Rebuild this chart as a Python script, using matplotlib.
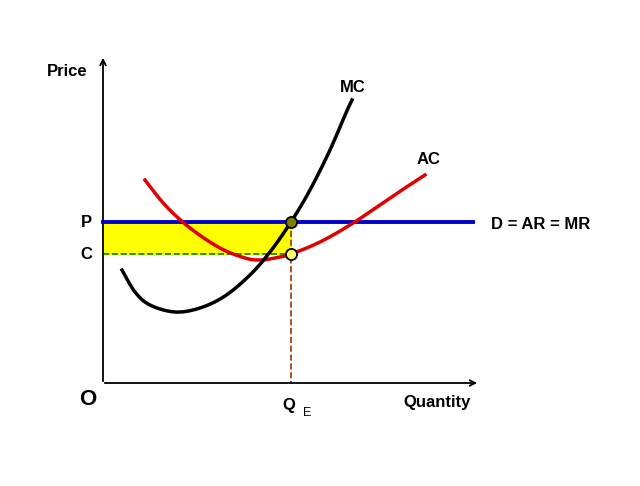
import matplotlib
matplotlib.use("Agg")
import matplotlib.pyplot as plt
import numpy as np

plt.rcParams['font.family'] = ['Liberation Sans', 'DejaVu Sans']

# Pixel-space data (x right, y down)
mc_x = [122,135,150,175,200,225,250,270,291,310,330,345,352]
mc_y = [270,292,305,312,308,296,275,252,222,190,150,115,100]
ac_x = [145,165,190,220,245,260,275,291,320,350,380,405,425]
ac_y = [180,205,228,248,258,260,258,254,242,225,205,188,175]
origin = (103, 383)
price_P = 222
cost_C = 254
q_E = 291
demand_end = 473

def smooth(x, y, n=200):
    x = np.array(x, float); y = np.array(y, float)
    t = np.r_[0, np.cumsum(np.hypot(np.diff(x), np.diff(y)))]
    tt = np.linspace(0, t[-1], n)
    from numpy import interp
    # Catmull-Rom style smoothing
    pts = np.c_[x, y]
    P = np.vstack([pts[0], pts, pts[-1]])
    out = []
    for i in range(1, len(P) - 2):
        p0, p1, p2, p3 = P[i-1], P[i], P[i+1], P[i+2]
        for s in np.linspace(0, 1, 15, endpoint=False):
            out.append(0.5*((2*p1) + (-p0+p2)*s + (2*p0-5*p1+4*p2-p3)*s**2 + (-p0+3*p1-3*p2+p3)*s**3))
    out.append(pts[-1])
    out = np.array(out)
    return out[:, 0], out[:, 1]

fig = plt.figure(figsize=(6.4, 4.86), dpi=100)
ax = fig.add_axes([0, 0, 1, 1])
ax.set_xlim(0, 640); ax.set_ylim(486, 0); ax.axis('off')

ox, oy = origin
ax.fill_between([ox, q_E], price_P, cost_C, color='#ffff00', zorder=1)
ax.plot([ox, q_E], [cost_C, cost_C], ls='--', color='#008000', lw=1.2, zorder=2)
ax.plot([q_E, q_E], [price_P, oy], ls='--', color='#993300', lw=1.2, zorder=2)

ax.annotate('', xy=(ox, 55), xytext=(ox, oy+1), arrowprops=dict(arrowstyle='->', lw=1.3, color='black'))
ax.annotate('', xy=(480, oy), xytext=(ox-1, oy), arrowprops=dict(arrowstyle='->', lw=1.3, color='black'))

ax.plot([ox, demand_end], [price_P, price_P], color='#0000cc', lw=2.8, zorder=3)
x, y = smooth(mc_x, mc_y); ax.plot(x, y, color='black', lw=2.5, zorder=4)
x, y = smooth(ac_x, ac_y); ax.plot(x, y, color='#e00000', lw=2.5, zorder=3)

ax.plot(q_E, price_P, 'o', ms=8, mfc='#808000', mec='black', mew=1.3, zorder=5)
ax.plot(q_E, cost_C, 'o', ms=8, mfc='#ffff66', mec='black', mew=1.3, zorder=5)

b = dict(fontweight='bold', fontsize=12, color='black')
ax.text(67, 72, 'Price', ha='center', va='center', **b)
ax.text(353, 87, 'MC', ha='center', va='center', **b)
ax.text(429, 159, 'AC', ha='center', va='center', **b)
ax.text(86, 222, 'P', ha='center', va='center', **b)
ax.text(86, 254, 'C', ha='center', va='center', **b)
ax.text(541, 224, 'D = AR = MR', ha='center', va='center', **b)
ax.text(88, 399, 'O', ha='center', va='center', fontweight='bold', fontsize=16)
ax.text(289, 405, 'Q', ha='center', va='center', **b)
ax.text(307, 413, 'E', ha='center', va='center', fontsize=9)
ax.text(437, 402, 'Quantity', ha='center', va='center', **b)

fig.savefig('out.png', dpi=100)
